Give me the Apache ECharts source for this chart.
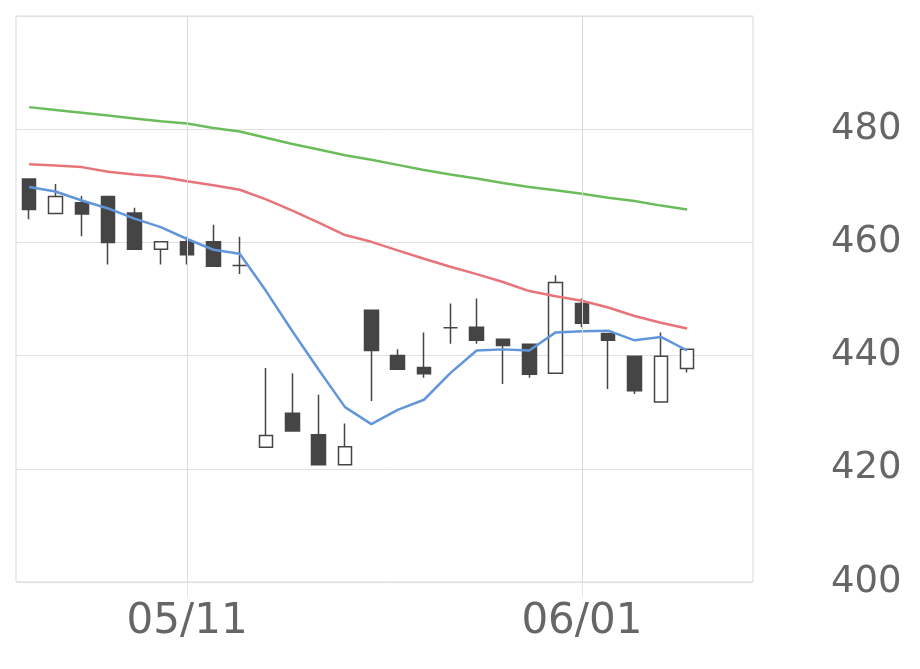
<!DOCTYPE html>
<html>
<head>
<meta charset="utf-8">
<script src="https://cdn.jsdelivr.net/npm/echarts@6/dist/echarts.min.js"></script>
<style>
html,body{margin:0;padding:0;background:#fff;}
#chart{width:920px;height:669px;}
</style>
</head>
<body>
<div id="chart"></div>
<script>
// 日付（最後の2日は空き）
var dates = ['04/27','04/28','04/30','05/01','05/07','05/08','05/11','05/12','05/13','05/14','05/15',
  '05/18','05/19','05/20','05/21','05/22','05/25','05/26','05/27','05/28','05/29',
  '06/01','06/02','06/03','06/04','06/05','06/08','06/09'];
var shownDates = ['05/11','06/01'];

// 四本値
var opens  = [471.2,465.1,467.0,468.1,465.2,458.8,460.1,460.1,455.9,423.8,429.8,426.0,420.7,448.0,440.0,437.9,444.9,445.0,442.9,442.0,436.9,449.2,443.9,439.9,431.8,437.7];
var closes = [465.8,468.1,465.0,460.0,458.8,460.1,457.8,455.8,455.9,425.9,426.7,420.7,423.9,440.9,437.6,436.8,444.9,442.7,441.8,436.7,452.9,445.7,442.7,433.8,439.9,441.1];
var lows   = [464.1,465.1,461.1,456.1,458.8,456.1,456.1,455.8,454.4,423.8,426.7,420.7,420.7,432.0,437.6,436.1,442.1,442.1,435.0,436.1,436.9,445.0,434.1,433.2,431.8,437.0];
var highs  = [471.2,470.3,468.2,468.1,466.1,460.1,461.0,463.1,461.0,437.8,436.9,433.1,428.0,448.0,441.1,444.1,449.2,450.1,442.9,442.0,454.2,450.1,443.9,439.9,444.1,441.1];

// 移動平均
var ma5  = [469.8,469.0,467.4,466.0,464.2,462.7,460.6,458.7,458.0,451.4,444.3,437.5,430.9,427.9,430.4,432.2,436.9,440.9,441.1,440.9,444.1,444.3,444.4,442.7,443.3,440.9];
var ma25 = [473.8,473.6,473.3,472.5,472.0,471.6,470.8,470.1,469.3,467.6,465.6,463.5,461.3,460.1,458.6,457.1,455.7,454.4,453.0,451.4,450.5,449.7,448.5,447.0,445.8,444.8];
var ma75 = [483.9,483.4,482.9,482.4,481.9,481.4,481.0,480.2,479.6,478.5,477.4,476.4,475.4,474.6,473.7,472.8,472.0,471.3,470.5,469.8,469.2,468.6,467.9,467.3,466.5,465.8];

var yTicks = {min: 400, max: 500, interval: 20};

var candleData = [];
for (var i = 0; i < opens.length; i++) {
  candleData.push([opens[i], closes[i], lows[i], highs[i]]);
}

var isShown = function (idx, value) {
  return shownDates.indexOf(value) >= 0;
};

var myChart = echarts.init(document.getElementById('chart'), null, {renderer: 'canvas'});
var option = {
  animation: false,
  backgroundColor: '#fff',
  grid: {left: 16, right: 167, top: 16, bottom: 87, show: true, borderColor: '#d9d9d9', borderWidth: 1},
  xAxis: {
    type: 'category',
    data: dates,
    boundaryGap: true,
    axisLine: {show: false},
    axisTick: {show: true, interval: isShown, alignWithLabel: true, length: 15, lineStyle: {color: '#dfe5ee'}},
    splitLine: {show: false},
    axisLabel: {
      interval: isShown,
      margin: 19,
      color: '#666',
      fontSize: 42,
      fontFamily: 'DejaVu Sans'
    }
  },
  yAxis: {
    type: 'value',
    position: 'right',
    min: yTicks.min,
    max: yTicks.max,
    interval: yTicks.interval,
    axisLine: {show: false},
    axisTick: {show: false},
    splitLine: {lineStyle: {color: '#e0e0e0', width: 1}},
    axisLabel: {
      showMaxLabel: false,
      margin: 78,
      color: '#666',
      fontSize: 37,
      fontFamily: 'DejaVu Sans'
    }
  },
  series: [
    {
      // 縦のグリッド線
      type: 'line',
      data: [],
      z: 0,
      silent: true,
      markLine: {
        silent: true,
        symbol: ['none', 'none'],
        label: {show: false},
        lineStyle: {color: '#d9d9d9', type: 'solid', width: 1},
        data: shownDates.map(function (d) { return {xAxis: d}; })
      }
    },
    {
      type: 'candlestick',
      data: candleData,
      barWidth: 14,
      z: 3,
      itemStyle: {
        color: '#fff',
        color0: '#454545',
        borderColor: '#454545',
        borderColor0: '#454545',
        borderWidth: 1.5
      }
    },
    {type: 'line', data: ma75, symbol: 'none', z: 4, lineStyle: {color: '#6bbd5b', width: 2.5}},
    {type: 'line', data: ma25, symbol: 'none', z: 4, lineStyle: {color: '#e8747a', width: 2.5}},
    {type: 'line', data: ma5, symbol: 'none', z: 4, lineStyle: {color: '#6197da', width: 2.5}}
  ]
};
myChart.setOption(option, true);
</script>
</body>
</html>
